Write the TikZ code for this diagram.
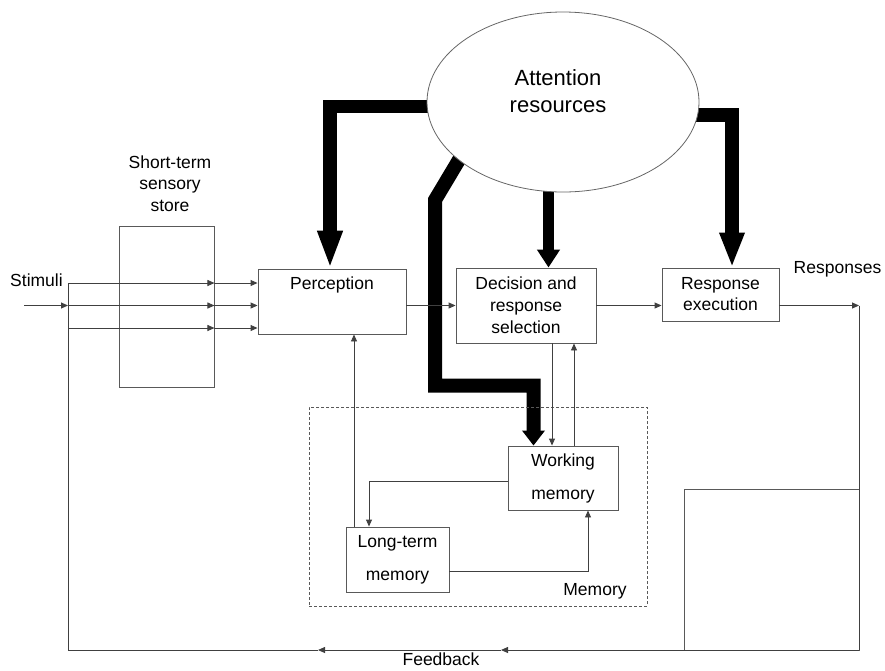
\documentclass[tikz,border=0pt]{standalone}
\usepackage{fontspec}
\setmainfont{Liberation Sans}
\usetikzlibrary{arrows.meta,shapes.geometric,calc}
\pgfdeclarelayer{bg}
\pgfsetlayers{bg,main}
\begin{document}
\begin{tikzpicture}[x=1pt,y=-1pt,
  txt/.style={font=\fontsize{17.5}{21.5}\selectfont, align=center, inner sep=0pt, text=black},
  box/.style={draw=black!65, line width=0.9pt, fill=white, inner sep=0pt, align=center, text=black},
  conn/.style={draw=black!75, line width=0.9pt},
  arr/.style={conn, -{Triangle[length=7pt,width=6pt]}},
  bigbar/.style={draw=black, line join=miter},
]
\useasboundingbox (0,0) rectangle (885,670);

% attention ellipse
\node[ellipse, draw=black!60, line width=0.8pt, fill=white, minimum width=272pt, minimum height=180pt, inner sep=0pt] (att) at (563,102) {};
\node[txt, font=\fontsize{22}{27}\selectfont] (attlbl) at (558,91) {Attention\\resources};

% memory region
\node[draw=black!65, line width=0.7pt, dash pattern=on 3pt off 2pt, minimum width=338pt, minimum height=199pt, inner sep=0pt] (mem) at (478,506.5) {};
\node[txt] (memlbl) at (595,591) {Memory};

% boxes
\node[box, minimum width=95pt, minimum height=161pt] (sens) at (166.5,306.5) {};
\node[txt] (senslbl) at (170,183.5) {Short-term\\sensory\\store};
\node[box, minimum width=148pt, minimum height=65pt] (perc) at (332,301.5) {};
\node[txt] (perclbl) at (332,285) {Perception};
\node[box, font=\fontsize{17.5}{22}\selectfont, minimum width=140pt, minimum height=75pt] (dec) at (526,305.5) {Decision and\\response\\selection};
\node[box, font=\fontsize{17.5}{21}\selectfont, minimum width=117pt, minimum height=53pt] (resp) at (720.5,294.5) {Response\\execution};
\node[box, font=\fontsize{17.5}{33}\selectfont, minimum width=110pt, minimum height=64pt] (work) at (563,478) {Working\\memory};
\node[box, font=\fontsize{17.5}{33}\selectfont, minimum width=103pt, minimum height=65pt] (ltm) at (397.5,559.5) {Long-term\\memory};
\node[box, minimum width=175pt, minimum height=161pt] (blank) at (771.5,569.5) {};

% labels
\node[txt] (stimlbl) at (36.5,280) {Stimuli};
\node[txt] (resplbl) at (837.5,269) {Responses};
\node[txt] (fblbl) at (441,659.5) {Feedback};

% coordinates
\coordinate (sin) at (24,305.5);
\coordinate (a1) at (68,283);
\coordinate (a2) at (68,305.5);
\coordinate (a3) at (68,328);
\coordinate (out) at (859,305.5);
\coordinate (fbR) at (859,650);
\coordinate (fbA) at (501,650);
\coordinate (fbB) at (318,650);
\coordinate (fbL) at (68,650);

% stimuli and sensory store
\draw[arr] (sin) -- (a2);
\foreach \p in {a1,a2,a3}{
  \draw[arr] (\p) -- (sens.east |- \p);
  \draw[arr] (sens.east |- \p) -- (perc.west |- \p);
}

% main chain
\draw[arr] (perc.east |- dec.west) -- (dec.west);
\draw[arr] (dec.east) -- (resp.west |- dec.east);
\draw[arr] (resp.east |- dec.east) -- (out);

% feedback loop
\draw[conn] (out) -- (fbR);
\draw[arr] (fbR) -- (fbA);
\draw[arr] (fbA) -- (fbB);
\draw[conn] (fbB) -- (fbL) -- (a1);

% memory connectors
\draw[arr] ([xshift=26pt]dec.south) -- ([xshift=26pt]dec.south |- work.north);
\draw[arr] ([xshift=11pt]work.north) -- ([xshift=11pt]work.north |- dec.south);
\draw[arr] ([yshift=-3pt]work.west) -| ([xshift=-28.5pt]ltm.north);
\draw[arr] ([yshift=-11.5pt]ltm.east) -| ([xshift=25pt]work.south);
\draw[arr] ([xshift=-43.5pt]ltm.north) -- ([xshift=-43.5pt]ltm.north |- perc.south);

% attention resource arrows (behind the ellipse)
\begin{pgfonlayer}{bg}
\coordinate (d0) at (478,128);
\coordinate (d1) at (435,200);
\coordinate (d2) at (435,385.5);
\draw[bigbar, line width=13.5pt, -{Triangle[length=38pt,width=23pt]}] ([yshift=-4.5pt]att.center) -| ([xshift=-2pt]perc.north);
\draw[bigbar, line width=14pt, -{Triangle[length=35pt,width=23pt]}] ([yshift=-12.5pt]att.center) -| ([xshift=11.5pt]resp.north);
\draw[bigbar, line width=11pt, -{Triangle[length=18pt,width=22pt]}] ([xshift=22.5pt]dec.north |- att.center) -- ([xshift=22.5pt]dec.north);
\draw[bigbar, line width=14pt, -{Triangle[length=15pt,width=22pt]}] (d0) -- (d1) -- (d2) -| ([xshift=-29.5pt]work.north);
\end{pgfonlayer}
\end{tikzpicture}
\end{document}
